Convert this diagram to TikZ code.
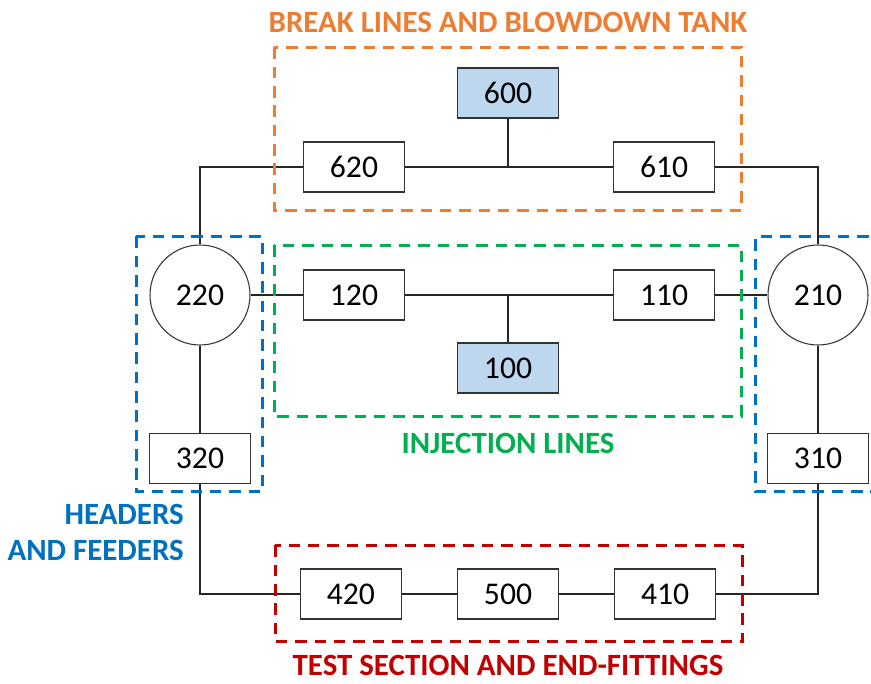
\documentclass[tikz,border=0pt]{standalone}
\usepackage{fontspec}
\setmainfont{Carlito}
\usetikzlibrary{positioning, calc}

\definecolor{breakorange}{HTML}{ED7D31}
\definecolor{injectgreen}{HTML}{00B050}
\definecolor{headerblue}{HTML}{0070C0}
\definecolor{testred}{HTML}{C00000}
\definecolor{tankblue}{HTML}{BDD7EE}

\begin{document}
\begin{tikzpicture}[
  box/.style={rectangle, draw=black!80, line width=0.6pt, minimum width=2.02cm, minimum height=1cm, inner sep=0pt},
  shaded/.style={fill=tankblue},
  hub/.style={circle, draw=black!80, line width=0.6pt, minimum size=2cm, inner sep=0pt},
  pipe/.style={line width=0.6pt, black!85},
  frame/.style={line width=1.8pt, dash pattern=on 6.5pt off 4.5pt},
  group/.style={font=\bfseries\fontsize{17.6}{21}\selectfont},
  every node/.style={font=\fontsize{18}{21}\selectfont}
]
\useasboundingbox (0,0) rectangle (17.42,-13.66);

%------------------------------------------------
% Break lines and blowdown tank
%------------------------------------------------
\node[box, shaded] (b600) at (10.16,-1.86) {600};
\node[box] (b620) at (7.08,-3.34) {620};
\node[box, right=4.16cm of b620] (b610) {610};

%------------------------------------------------
% Headers
%------------------------------------------------
\node[hub] (c220) at (4.0,-5.9) {220};
\node[hub] (c210) at (16.36,-5.9) {210};

%------------------------------------------------
% Injection lines
%------------------------------------------------
\node[box] (b120) at (7.08,-5.9) {120};
\node[box, right=4.16cm of b120] (b110) {110};
\node[box, shaded] (b100) at (10.16,-7.36) {100};

%------------------------------------------------
% Feeders
%------------------------------------------------
\node[box, below=1.74cm of c220] (b320) {320};
\node[box, below=1.74cm of c210] (b310) {310};

%------------------------------------------------
% Test section and end-fittings
%------------------------------------------------
\node[box] (b500) at (10.16,-11.88) {500};
\node[box, left=1.1cm of b500] (b420) {420};
\node[box, right=1.1cm of b500] (b410) {410};

% connections
\draw[pipe] (b620) -- (b610);
\draw[pipe] (b600.south) -- (b600 |- b620);
\draw[pipe] (b620.west) -| (c220.north);
\draw[pipe] (b610.east) -| (c210.north);
\draw[pipe] (c220) -- (b120);
\draw[pipe] (b120) -- (b110);
\draw[pipe] (b100.north) -- (b100 |- b120);
\draw[pipe] (b110) -- (c210);
\draw[pipe] (c220) -- (b320);
\draw[pipe] (c210) -- (b310);
\draw[pipe] (b320.south) |- (b420.west);
\draw[pipe] (b310.south) |- (b410.east);
\draw[pipe] (b420) -- (b500);
\draw[pipe] (b500) -- (b410);

% dashed groups
\draw[frame, breakorange] ($(b620.west |- b600.north)+(-0.57,0.4)$) rectangle ($(b610.east |- b620.south)+(0.53,-0.36)$);
\draw[frame, injectgreen] ($(b120.north west)+(-0.57,0.48)$) rectangle ($(b110.east |- b100.south)+(0.53,-0.46)$);
\draw[frame, testred] ($(b420.north west)+(-0.49,0.46)$) rectangle ($(b410.south east)+(0.53,-0.44)$);
\draw[frame, headerblue] ($(c220.west |- c220.north)+(-0.26,0.16)$) rectangle ($(c220.east |- b320.south)+(0.24,-0.16)$);
\draw[frame, headerblue] ($(c210.north)+(1.4,0.16)$) -| ($(c210.west |- b310.south)+(-0.24,-0.16)$) -- ++(2.8,0);

% group labels
\node[group, text=breakorange] (t_break) at (10.16,-0.44) {BREAK LINES AND BLOWDOWN TANK};
\node[group, text=injectgreen] (t_inject) at (10.16,-8.86) {INJECTION LINES};
\node[group, text=testred] (t_test) at (10.16,-13.3) {TEST SECTION AND END-FITTINGS};
\node[group, text=headerblue, align=right, anchor=east] (t_header) at (3.8,-10.65) {HEADERS\\AND FEEDERS};

\end{tikzpicture}
\end{document}
